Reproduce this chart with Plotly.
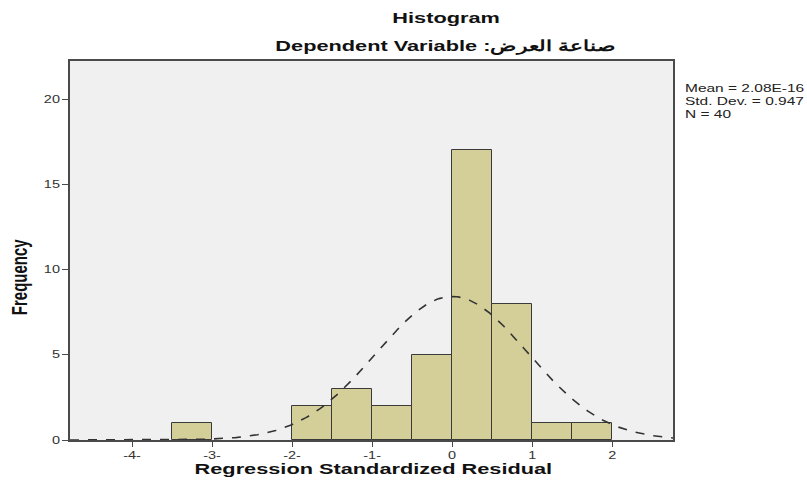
import numpy as np
import plotly.graph_objects as go

# Data
bin_starts = [-3.5, -2.0, -1.5, -1.0, -0.5, 0.0, 0.5, 1.0, 1.5]
counts = [1, 2, 3, 2, 5, 17, 8, 1, 1]
bin_width = 0.5
mean_val = 2.08e-16
sd_val = 0.947
n_val = 40
x_tickvals = [-4, -3, -2, -1, 0, 1, 2]
x_ticktext = ["-4-", "-3-", "-2-", "-1-", "0", "1", "2"]
y_tickvals = [0, 5, 10, 15, 20]

centers = [s + bin_width / 2 for s in bin_starts]

xr = [-4.775, 2.76]
xs = np.linspace(xr[0], xr[1], 300)
ys = n_val * bin_width / (sd_val * np.sqrt(2 * np.pi)) * np.exp(-0.5 * ((xs - mean_val) / sd_val) ** 2)

FONT = "Liberation Sans, Arial, sans-serif"

fig = go.Figure()
fig.add_trace(go.Bar(
    x=centers, y=counts, width=[bin_width] * len(counts),
    marker=dict(color="#d4cf98", line=dict(color="#3a3a3a", width=1)),
    hoverinfo="x+y",
))
fig.add_trace(go.Scatter(
    x=xs, y=ys, mode="lines",
    line=dict(color="#333333", width=1.6, dash="dash"),
    hoverinfo="skip",
))

fig.update_layout(
    width=807, height=484,
    margin=dict(l=70, r=134, t=61, b=44, autoexpand=False),
    paper_bgcolor="white",
    plot_bgcolor="#f0f0f0",
    showlegend=False,
    bargap=0,
    font=dict(family=FONT, color="#333333", size=11),
)
fig.update_xaxes(
    range=xr, tickvals=x_tickvals, ticktext=x_ticktext, automargin=False,
    showgrid=False, zeroline=False,
    showline=True, linecolor="#4a4a4a", linewidth=2, mirror=True,
    ticks="outside", ticklen=5, tickcolor="#4a4a4a", tickwidth=1,
    tickfont=dict(size=10, color="#333333", family=FONT),
)
fig.update_yaxes(
    range=[0, 22.25], tickvals=y_tickvals, automargin=False,
    showgrid=False, zeroline=False,
    showline=True, linecolor="#4a4a4a", linewidth=2, mirror=True,
    ticks="outside", ticklen=6, tickcolor="#4a4a4a", tickwidth=1,
    tickfont=dict(size=10, color="#333333", family=FONT),
)

annos = [
    dict(text="<b>Histogram</b>", x=0.6235, y=1.1135, size=15),
    dict(text="<b>Dependent Variable :صناعة العرض</b>", x=0.6235, y=1.0396, size=15),
    dict(text="<b>Regression Standardized Residual</b>", x=0.504, y=-0.076, size=15),
]
for a in annos:
    fig.add_annotation(xref="paper", yref="paper", showarrow=False,
                       xanchor="center", yanchor="middle", text=a["text"], x=a["x"], y=a["y"],
                       font=dict(family=FONT, size=a["size"], color="#111111"))
fig.add_annotation(
    text="<b>Frequency</b>", xref="paper", yref="paper", x=-0.086, y=0.43,
    textangle=-90, showarrow=False, xanchor="center", yanchor="middle",
    font=dict(family=FONT, size=15, color="#111111"),
)
fig.add_annotation(
    text=f"Mean = {mean_val:.2E}<br>Std. Dev. = {sd_val}<br>N = {n_val}",
    xref="paper", yref="paper", x=1.0166, y=0.947, xanchor="left", yanchor="top",
    align="left", showarrow=False,
    font=dict(family=FONT, size=10, color="#222222"),
)

# Remove the page's default body margin, and widen the text glyphs the way the
# (horizontally stretched) reference picture shows them.
post = """
document.body.style.margin = '0';
document.body.style.overflow = 'hidden';
var gd = document.getElementById('{plot_id}');
gd.querySelectorAll('svg text').forEach(function(t){
  var SX = /Mean =/.test(t.textContent) ? 1.55 : 1.45;
  var g = t.closest('.annotation-text-g');
  var rot = g && /rotate\\(\\s*-90/.test(g.getAttribute('transform') || '');
  var tr = t.getAttribute('transform') || '';
  if (rot) {
    var bb = t.getBBox();
    var cy = bb.y + bb.height / 2;
    t.setAttribute('transform', tr + ' translate(0,' + cy + ') scale(1,' + SX + ') translate(0,' + (-cy) + ')');
  } else {
    var ax = parseFloat(t.getAttribute('x')) || 0;
    t.setAttribute('transform', tr + ' translate(' + ax + ',0) scale(' + SX + ',1) translate(' + (-ax) + ',0)');
  }
});
"""
fig.write_html("out.html", post_script=post, config={"displayModeBar": False})
